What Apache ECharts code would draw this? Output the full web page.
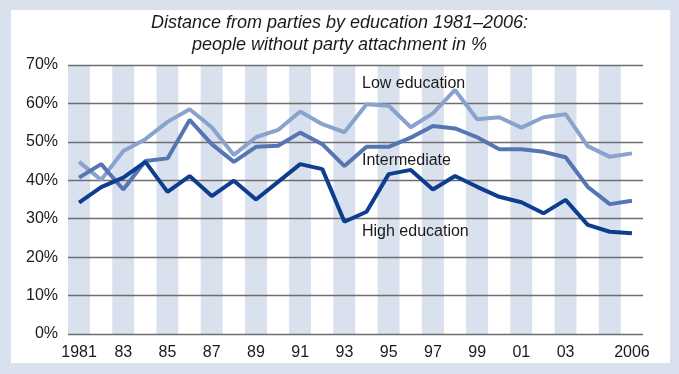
<!DOCTYPE html>
<html><head><meta charset="utf-8">
<script src="https://cdn.jsdelivr.net/npm/echarts@6/dist/echarts.min.js"></script>
<style>html,body{margin:0;padding:0;background:#dae1ee;}#c{width:679px;height:374px;}</style>
</head><body><div id="c"></div>
<script>
var years = ['1981','1982','1983','1984','1985','1986','1987','1988','1989','1990','1991','1992','1993','1994','1995','1996','1997','1998','1999','2000','2001','2002','2003','2004','2005','2006'];
var tickLabels = {'1981':'1981','1983':'83','1985':'85','1987':'87','1989':'89','1991':'91','1993':'93','1995':'95','1997':'97','1999':'99','2001':'01','2003':'03','2006':'2006'};
var lowEdu = [44.8,40.1,47.6,50.7,55.2,58.5,53.8,46.6,51.2,53.1,57.9,54.6,52.5,59.8,59.4,53.8,57.4,63.5,55.9,56.4,53.7,56.4,57.2,48.9,46.1,47.0];
var intermediate = [40.7,44.2,37.6,45.0,45.7,55.7,49.4,44.8,48.7,49.0,52.4,49.4,43.7,48.7,48.7,51.1,54.1,53.5,51.2,48.1,48.1,47.4,46.0,38.3,33.8,34.7];
var highEdu = [34.2,38.2,40.7,44.8,37.0,41.1,35.9,39.9,35.0,39.6,44.2,42.9,29.2,31.8,41.6,42.7,37.6,41.1,38.3,35.7,34.3,31.4,34.9,28.4,26.6,26.2];
var seriesNames = ['Low education','Intermediate','High education'];
var colors = ['#8aa3cc','#5575b3','#0d3d8f'];
var FONT = 'Liberation Sans';
var labelStyle = {fontFamily:FONT,fontSize:16,fill:'#1a1a1a'};
var chart = echarts.init(document.getElementById('c'));
chart.setOption({
  animation:false,
  backgroundColor:'#dae1ee',
  title:{
    text:'Distance from parties by education 1981\u20132006:\npeople without party attachment in %',
    left:'center', top:7,
    textStyle:{fontFamily:FONT,fontStyle:'italic',fontWeight:'normal',fontSize:18,lineHeight:22,color:'#1a1a1a'}
  },
  graphic:[
    {type:'rect',z:-10,silent:true,shape:{x:11,y:10,width:659,height:353},style:{fill:'#ffffff'}},
    {type:'text',z:100,left:362,top:76,style:Object.assign({text:seriesNames[0]},labelStyle)},
    {type:'text',z:100,left:362,top:153,style:Object.assign({text:seriesNames[1]},labelStyle)},
    {type:'text',z:100,left:362,top:224,style:Object.assign({text:seriesNames[2]},labelStyle)}
  ],
  grid:{left:68,right:36,top:65,bottom:40},
  xAxis:{
    type:'category', data:years, boundaryGap:true, z:0,
    axisLine:{show:false},
    axisTick:{show:false},
    axisLabel:{
      interval:function(i,v){return tickLabels.hasOwnProperty(v);},
      formatter:function(v){return tickLabels[v]||'';},
      fontFamily:FONT,fontSize:16,color:'#1a1a1a',margin:11
    },
    splitArea:{show:true,interval:0,areaStyle:{color:['#dae1ee','#ffffff']}},
    splitLine:{show:false}
  },
  yAxis:{
    type:'value',min:0,max:70,interval:10, z:2,
    axisLine:{show:false},axisTick:{show:false},
    axisLabel:{formatter:'{value}%',fontFamily:FONT,fontSize:16,color:'#1a1a1a',margin:10},
    splitLine:{show:true,lineStyle:{color:'#6e6e6e',width:1.3}}
  },
  series:[
    {name:seriesNames[0],type:'line',data:lowEdu,symbol:'none',lineStyle:{color:colors[0],width:4},z:3},
    {name:seriesNames[1],type:'line',data:intermediate,symbol:'none',lineStyle:{color:colors[1],width:4},z:4},
    {name:seriesNames[2],type:'line',data:highEdu,symbol:'none',lineStyle:{color:colors[2],width:4},z:5}
  ]
});
</script></body></html>
